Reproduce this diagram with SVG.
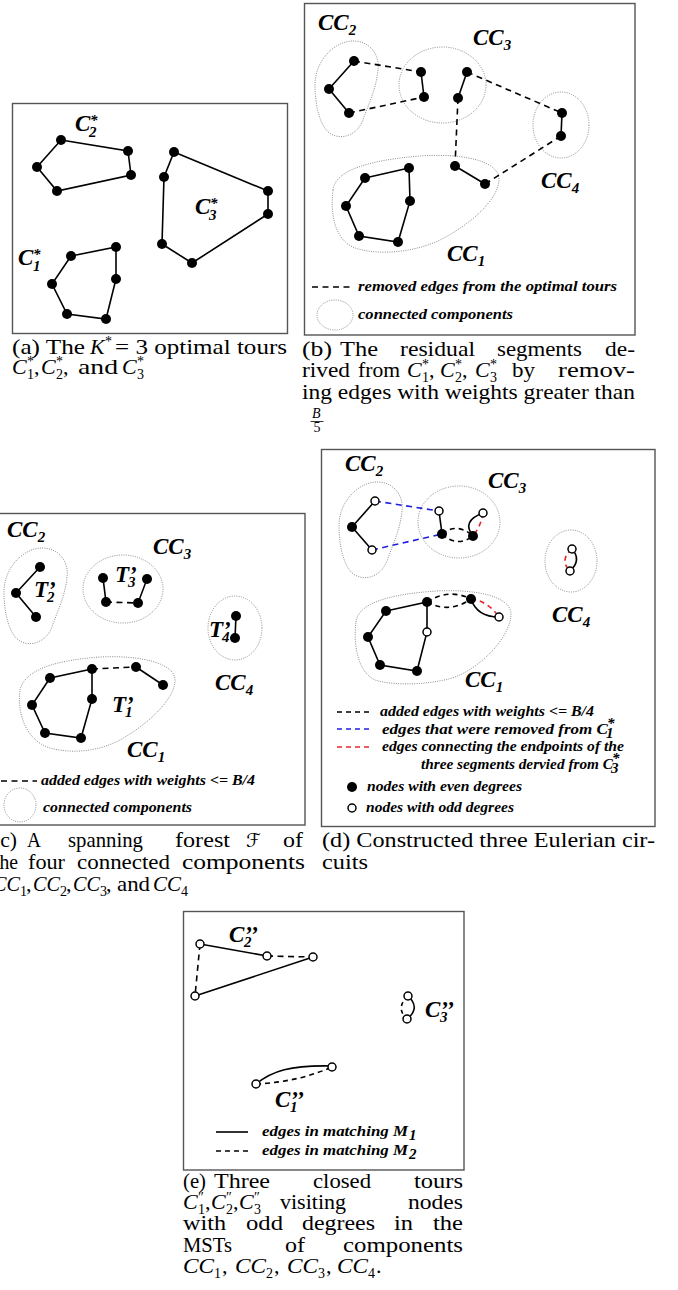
<svg xmlns="http://www.w3.org/2000/svg" width="678" height="1290" viewBox="0 0 678 1290">
<style>
.box{fill:none;stroke:#555;stroke-width:1.4}
.e{fill:none;stroke:#000;stroke-width:1.6}
.d{fill:none;stroke:#000;stroke-width:1.6;stroke-dasharray:6 4.5}
.db{fill:none;stroke:#1f1fe0;stroke-width:1.6;stroke-dasharray:6 4.5}
.dr{fill:none;stroke:#e8262a;stroke-width:1.6;stroke-dasharray:5 4}
.cc{fill:none;stroke:#8a8a8a;stroke-width:1;stroke-dasharray:1 1.3}
.n{fill:#000}
.o{fill:#fff;stroke:#000;stroke-width:1.5}
.cap{font-family:"Liberation Serif",serif;font-size:22px;fill:#000}
.it{font-style:italic}
.cs{font-family:"Liberation Serif",serif;font-size:14px;font-style:normal}
.lb{font-family:"Liberation Serif",serif;font-size:23px;font-weight:bold;font-style:italic}
.ls{font-family:"Liberation Serif",serif;font-size:15px;font-weight:bold;font-style:italic}
.lg{font-family:"Liberation Serif",serif;font-size:15px;font-weight:bold;font-style:italic}
</style>
<rect width="678" height="1290" fill="#fff"/>

<!-- ===== Panel (a) ===== -->
<g id="panel-a">
<rect class="box" x="12.5" y="103.5" width="275" height="230"/>
<g id="a-connectors">
<polygon class="e" points="61,140 128,151 131,175 57,191 37,167"/>
<polygon class="e" points="174,152 268,191 268,214 192,263 162,244 164,177"/>
<polygon class="e" points="71,256 116,247 116,279 106,319 67,314 52,284"/>
</g>
<g id="a-C2" class="n"><circle cx="61" cy="140" r="5"/><circle cx="128" cy="151" r="5"/><circle cx="131" cy="175" r="5"/><circle cx="57" cy="191" r="5"/><circle cx="37" cy="167" r="5"/></g>
<g id="a-C3" class="n"><circle cx="174" cy="152" r="5"/><circle cx="268" cy="191" r="5"/><circle cx="268" cy="214" r="5"/><circle cx="192" cy="263" r="5"/><circle cx="162" cy="244" r="5"/><circle cx="164" cy="177" r="5"/></g>
<g id="a-C1" class="n"><circle cx="71" cy="256" r="5"/><circle cx="116" cy="247" r="5"/><circle cx="116" cy="279" r="5"/><circle cx="106" cy="319" r="5"/><circle cx="67" cy="314" r="5"/><circle cx="52" cy="284" r="5"/></g>
<g id="a-labels">
<text class="lb" x="75" y="131">C</text><text class="ls" x="90" y="125" font-size="17">*</text><text class="ls" x="89" y="137">2</text>
<text class="lb" x="195" y="214">C</text><text class="ls" x="210" y="208" font-size="17">*</text><text class="ls" x="209" y="220">3</text>
<text class="lb" x="18" y="265">C</text><text class="ls" x="33" y="259" font-size="17">*</text><text class="ls" x="33" y="271">1</text>
</g>
<g id="a-caption" class="cap">
<text x="12" y="354" textLength="73" lengthAdjust="spacingAndGlyphs">(a) The</text>
<text class="it" x="90" y="354">K</text><text class="cs" x="105" y="346">*</text>
<text x="115" y="354" textLength="172" lengthAdjust="spacingAndGlyphs">= 3 optimal tours</text>
<text class="it" x="12" y="374">C</text><text class="cs" x="27" y="379">1</text><text class="cs" x="27" y="366">*</text><text x="34" y="374">,</text>
<text class="it" x="41" y="374">C</text><text class="cs" x="56" y="379">2</text><text class="cs" x="56" y="366">*</text><text x="63" y="374">,</text>
<text x="78" y="374" textLength="40" lengthAdjust="spacingAndGlyphs">and</text>
<text class="it" x="122" y="374">C</text><text class="cs" x="137" y="379">3</text><text class="cs" x="137" y="366">*</text>
</g>
</g>

<!-- ===== Panel (b) ===== -->
<g id="panel-b">
<rect class="box" x="304.5" y="3.5" width="330.5" height="331.5"/>
<g id="b-components">
<path class="cc" d="M353,41 C370,41 380,55 378,70 C376,90 368,105 363,120 C358,133 345,140 333,135 C320,130 315,105 315,85 C315,60 335,41 353,41 Z"/>
<ellipse class="cc" cx="442.5" cy="85" rx="43.5" ry="38"/>
<ellipse class="cc" cx="561" cy="125" rx="28" ry="33"/>
<path class="cc" d="M333,190 C335,170 370,160 420,156 C460,153 500,160 499,180 C498,200 470,225 440,240 C415,252 380,256 355,248 C335,240 330,215 333,190 Z"/>
</g>
<g id="b-connectors">
<polyline class="e" points="354,61 329,89 349,113"/>
<line class="e" x1="421" y1="72" x2="424" y2="97"/>
<line class="e" x1="467" y1="72" x2="458" y2="98"/>
<line class="e" x1="562" y1="113" x2="561" y2="136"/>
<line class="e" x1="455" y1="166" x2="485" y2="184"/>
<polygon class="e" points="365,178 409,168 410,201 398,242 359,236 346,206"/>
<line class="d" x1="354" y1="61" x2="421" y2="72"/>
<line class="d" x1="349" y1="113" x2="424" y2="97"/>
<line class="d" x1="467" y1="72" x2="562" y2="113"/>
<line class="d" x1="458" y1="98" x2="455" y2="166"/>
<line class="d" x1="485" y1="184" x2="561" y2="136"/>
</g>
<g id="b-CC2" class="n"><circle cx="354" cy="61" r="5"/><circle cx="329" cy="89" r="5"/><circle cx="349" cy="113" r="5"/></g>
<g id="b-CC3" class="n"><circle cx="421" cy="72" r="5"/><circle cx="424" cy="97" r="5"/><circle cx="467" cy="72" r="5"/><circle cx="458" cy="98" r="5"/></g>
<g id="b-CC4" class="n"><circle cx="562" cy="113" r="5"/><circle cx="561" cy="136" r="5"/></g>
<g id="b-CC1" class="n"><circle cx="455" cy="166" r="5"/><circle cx="485" cy="184" r="5"/><circle cx="365" cy="178" r="5"/><circle cx="409" cy="168" r="5"/><circle cx="410" cy="201" r="5"/><circle cx="398" cy="242" r="5"/><circle cx="359" cy="236" r="5"/><circle cx="346" cy="206" r="5"/></g>
<g id="b-labels">
<text class="lb" x="318" y="30">CC<tspan class="ls" dy="5">2</tspan></text>
<text class="lb" x="473" y="45">CC<tspan class="ls" dy="5">3</tspan></text>
<text class="lb" x="541" y="188">CC<tspan class="ls" dy="5">4</tspan></text>
<text class="lb" x="447" y="261">CC<tspan class="ls" dy="5">1</tspan></text>
</g>
<g id="b-legend">
<line class="d" x1="312" y1="287" x2="350" y2="287"/>
<text class="lg" x="358" y="291" textLength="259" lengthAdjust="spacingAndGlyphs">removed edges from the optimal tours</text>
<ellipse class="cc" cx="335" cy="315" rx="18" ry="15"/>
<text class="lg" x="358" y="319" textLength="155" lengthAdjust="spacingAndGlyphs">connected components</text>
</g>
<g id="b-caption" class="cap">
<text x="302" y="356" textLength="30" lengthAdjust="spacingAndGlyphs">(b)</text>
<text x="340" y="356" textLength="38" lengthAdjust="spacingAndGlyphs">The</text>
<text x="400" y="356" textLength="75" lengthAdjust="spacingAndGlyphs">residual</text>
<text x="497" y="356" textLength="85" lengthAdjust="spacingAndGlyphs">segments</text>
<text x="605" y="356" textLength="30" lengthAdjust="spacingAndGlyphs">de-</text>
<text x="302" y="377" textLength="48" lengthAdjust="spacingAndGlyphs">rived</text>
<text x="358" y="377" textLength="42" lengthAdjust="spacingAndGlyphs">from</text>
<text class="it" x="407" y="377">C</text><text class="cs" x="422" y="382">1</text><text class="cs" x="422" y="369">*</text><text x="429" y="377">,</text>
<text class="it" x="440" y="377">C</text><text class="cs" x="455" y="382">2</text><text class="cs" x="455" y="369">*</text><text x="462" y="377">,</text>
<text class="it" x="475" y="377">C</text><text class="cs" x="490" y="382">3</text><text class="cs" x="490" y="369">*</text>
<text x="512" y="377" textLength="23" lengthAdjust="spacingAndGlyphs">by</text>
<text x="558" y="377" textLength="77" lengthAdjust="spacingAndGlyphs">remov-</text>
<text x="302" y="399" textLength="333" lengthAdjust="spacingAndGlyphs">ing edges with weights greater than</text>
<text class="it" x="312" y="418" font-size="14">B</text>
<line x1="310.5" y1="421.5" x2="323.5" y2="421.5" stroke="#000" stroke-width="0.8"/>
<text class="cs" x="313.5" y="432">5</text>
</g>
</g>

<!-- ===== Panel (c) ===== -->
<g id="panel-c">
<rect class="box" x="-3" y="513.5" width="308" height="311.5"/>
<g id="c-components">
<path class="cc" transform="translate(-311,507)" d="M353,41 C370,41 380,55 378,70 C376,90 368,105 363,120 C358,133 345,140 333,135 C320,130 315,105 315,85 C315,60 335,41 353,41 Z"/>
<ellipse class="cc" cx="123" cy="589" rx="40" ry="34"/>
<ellipse class="cc" cx="235" cy="628" rx="27" ry="32"/>
<path class="cc" d="M20,690 C25,668 60,660 100,657 C140,655 177,663 175,682 C173,700 150,722 125,737 C105,750 75,755 50,748 C25,740 17,712 20,690 Z"/>
</g>
<g id="c-connectors">
<polyline class="e" points="40,567 16,593 36,617"/>
<line class="e" x1="103" y1="578" x2="106" y2="602"/>
<line class="e" x1="138" y1="603" x2="147" y2="579"/>
<line class="e" x1="236" y1="616" x2="235" y2="638"/>
<polygon class="e" points="50,678 92,669 92,699 81,738 45,733 32,705"/>
<line class="e" x1="136" y1="667" x2="163" y2="685"/>
<line class="d" x1="106" y1="602" x2="138" y2="603"/>
<line class="d" x1="92" y1="669" x2="136" y2="667"/>
</g>
<g id="c-CC2" class="n"><circle cx="40" cy="567" r="5"/><circle cx="16" cy="593" r="5"/><circle cx="36" cy="617" r="5"/></g>
<g id="c-CC3" class="n"><circle cx="103" cy="578" r="5"/><circle cx="106" cy="602" r="5"/><circle cx="138" cy="603" r="5"/><circle cx="147" cy="579" r="5"/></g>
<g id="c-CC4" class="n"><circle cx="236" cy="616" r="5"/><circle cx="235" cy="638" r="5"/></g>
<g id="c-CC1" class="n"><circle cx="50" cy="678" r="5"/><circle cx="92" cy="669" r="5"/><circle cx="136" cy="667" r="5"/><circle cx="163" cy="685" r="5"/><circle cx="92" cy="699" r="5"/><circle cx="81" cy="738" r="5"/><circle cx="45" cy="733" r="5"/><circle cx="32" cy="705" r="5"/></g>
<g id="c-labels">
<text class="lb" x="7" y="537">CC<tspan class="ls" dy="5">2</tspan></text>
<text class="lb" x="153" y="554">CC<tspan class="ls" dy="5">3</tspan></text>
<text class="lb" x="215" y="690">CC<tspan class="ls" dy="5">4</tspan></text>
<text class="lb" x="127" y="757">CC<tspan class="ls" dy="5">1</tspan></text>
<text class="lb" x="34" y="597">T’<tspan class="ls" x="47" dy="5">2</tspan></text>
<text class="lb" x="115" y="582">T’<tspan class="ls" x="128" dy="5">3</tspan></text>
<text class="lb" x="209" y="637">T’<tspan class="ls" x="222" dy="5">4</tspan></text>
<text class="lb" x="112" y="712">T’<tspan class="ls" x="125" dy="5">1</tspan></text>
</g>
<g id="c-legend">
<line class="d" x1="1" y1="781" x2="37" y2="781"/>
<text class="lg" x="41" y="785" textLength="214" lengthAdjust="spacingAndGlyphs">added edges with weights &lt;= B/4</text>
<ellipse class="cc" cx="20" cy="805" rx="16" ry="17"/>
<text class="lg" x="43" y="812" textLength="149" lengthAdjust="spacingAndGlyphs">connected components</text>
</g>
<g id="c-caption" class="cap">
<text x="-7" y="847" textLength="24" lengthAdjust="spacingAndGlyphs">(c)</text>
<text x="27" y="847" textLength="14" lengthAdjust="spacingAndGlyphs">A</text>
<text x="68" y="847" textLength="75" lengthAdjust="spacingAndGlyphs">spanning</text>
<text x="175" y="847" textLength="55" lengthAdjust="spacingAndGlyphs">forest</text>
<text x="246" y="847" style="font-family:'DejaVu Sans','DejaVu Serif',serif;font-size:19px">ℱ</text>
<text x="283" y="847" textLength="20" lengthAdjust="spacingAndGlyphs">of</text>
<text x="-6" y="869" textLength="24" lengthAdjust="spacingAndGlyphs">the</text>
<text x="28" y="869" textLength="37" lengthAdjust="spacingAndGlyphs">four</text>
<text x="77" y="869" textLength="93" lengthAdjust="spacingAndGlyphs">connected</text>
<text x="182" y="869" textLength="123" lengthAdjust="spacingAndGlyphs">components</text>
<text class="it" x="-7" y="891" textLength="27" lengthAdjust="spacingAndGlyphs">CC</text><text class="cs" x="20" y="896">1</text><text x="26" y="891">,</text>
<text class="it" x="33" y="891" textLength="27" lengthAdjust="spacingAndGlyphs">CC</text><text class="cs" x="60" y="896">2</text><text x="66" y="891">,</text>
<text class="it" x="73" y="891" textLength="27" lengthAdjust="spacingAndGlyphs">CC</text><text class="cs" x="100" y="896">3</text><text x="106" y="891">,</text>
<text x="117" y="891" textLength="33" lengthAdjust="spacingAndGlyphs">and</text>
<text class="it" x="153" y="891" textLength="28" lengthAdjust="spacingAndGlyphs">CC</text><text class="cs" x="181" y="896">4</text>
</g>
</g>

<!-- ===== Panel (d) ===== -->
<g id="panel-d">
<rect class="box" x="321.5" y="449.5" width="333.5" height="377"/>
<g id="d-components">
<path class="cc" transform="translate(24,441)" d="M353,41 C370,41 380,55 378,70 C376,90 368,105 363,120 C358,133 345,140 333,135 C320,130 315,105 315,85 C315,60 335,41 353,41 Z"/>
<ellipse class="cc" cx="459" cy="522" rx="41" ry="36"/>
<ellipse class="cc" cx="571" cy="561" rx="26" ry="31"/>
<path class="cc" d="M356,622 C358,603 390,594 437,591 C475,589 512,596 511,615 C510,633 490,660 460,675 C440,684 398,687 375,680 C358,672 353,645 356,622 Z"/>
</g>
<g id="d-connectors">
<polyline class="e" points="375,501 352,527 372,550"/>
<line class="e" x1="439" y1="511" x2="442" y2="534"/>
<path class="e" d="M473,536 Q461,521 483,513"/>
<path class="e" d="M572,549 Q582,560 570,571"/>
<polygon class="e" points="386,611 427,602 427,632 417,671 380,665 368,637"/>
<path class="e" d="M471,599 Q477,617 499,617"/>
<line class="db" x1="375" y1="501" x2="439" y2="511"/>
<line class="db" x1="372" y1="550" x2="442" y2="534"/>
<path class="d" style="stroke-dasharray:5 4" d="M442,534 Q457,522 473,536"/>
<path class="d" style="stroke-dasharray:5 4" d="M442,534 Q457,548 473,536"/>
<path class="d" style="stroke-dasharray:5 4" d="M427,602 Q449,588 471,599"/>
<path class="d" style="stroke-dasharray:5 4" d="M427,602 Q449,614 471,599"/>
<path class="dr" d="M483,513 Q481,526 473,536"/>
<path class="dr" d="M572,549 Q559,560 570,571"/>
<path class="dr" d="M471,599 Q488,601 499,617"/>
</g>
<g id="d-CC2"><circle class="o" cx="375" cy="501" r="4"/><circle class="n" cx="352" cy="527" r="5"/><circle class="o" cx="372" cy="550" r="4"/></g>
<g id="d-CC3"><circle class="o" cx="439" cy="511" r="4"/><circle class="n" cx="442" cy="534" r="5"/><circle class="n" cx="473" cy="536" r="5"/><circle class="o" cx="483" cy="513" r="4"/></g>
<g id="d-CC4"><circle class="o" cx="572" cy="549" r="4"/><circle class="o" cx="570" cy="571" r="4"/></g>
<g id="d-CC1"><circle class="n" cx="386" cy="611" r="5"/><circle class="n" cx="427" cy="602" r="5"/><circle class="n" cx="471" cy="599" r="5"/><circle class="o" cx="499" cy="617" r="4"/><circle class="o" cx="427" cy="632" r="4"/><circle class="n" cx="368" cy="637" r="5"/><circle class="n" cx="380" cy="665" r="5"/><circle class="n" cx="417" cy="671" r="5"/></g>
<g id="d-labels">
<text class="lb" x="345" y="471">CC<tspan class="ls" dy="5">2</tspan></text>
<text class="lb" x="488" y="488">CC<tspan class="ls" dy="5">3</tspan></text>
<text class="lb" x="552" y="622">CC<tspan class="ls" dy="5">4</tspan></text>
<text class="lb" x="465" y="687">CC<tspan class="ls" dy="5">1</tspan></text>
</g>
<g id="d-legend">
<line class="d" x1="337" y1="712" x2="372" y2="712" style="stroke-dasharray:5 4"/>
<text class="lg" x="380" y="716" textLength="214" lengthAdjust="spacingAndGlyphs">added edges with weights &lt;= B/4</text>
<line class="db" x1="337" y1="729" x2="372" y2="729" style="stroke-dasharray:5 4"/>
<text class="lg" x="382" y="734" textLength="226" lengthAdjust="spacingAndGlyphs">edges that were removed from C</text>
<text class="ls" x="607" y="728" font-size="12">*</text><text class="ls" x="606" y="738" font-size="12">1</text>
<line class="dr" x1="337" y1="747" x2="372" y2="747"/>
<text class="lg" x="382" y="751" textLength="242" lengthAdjust="spacingAndGlyphs">edges connecting the endpoints of the</text>
<text class="lg" x="421" y="769" textLength="192" lengthAdjust="spacingAndGlyphs">three segments dervied from C</text>
<text class="ls" x="612" y="763" font-size="12">*</text><text class="ls" x="611" y="773" font-size="12">3</text>
<circle class="n" cx="352" cy="787" r="5"/>
<text class="lg" x="367" y="791" textLength="155" lengthAdjust="spacingAndGlyphs">nodes with even degrees</text>
<circle class="o" cx="352" cy="808" r="4"/>
<text class="lg" x="366" y="812" textLength="148" lengthAdjust="spacingAndGlyphs">nodes with odd degrees</text>
</g>
<g id="d-caption" class="cap">
<text x="322" y="847" textLength="333" lengthAdjust="spacingAndGlyphs">(d) Constructed three Eulerian cir-</text>
<text x="322" y="869" textLength="46" lengthAdjust="spacingAndGlyphs">cuits</text>
</g>
</g>

<!-- ===== Panel (e) ===== -->
<g id="panel-e">
<rect class="box" x="183.5" y="911.5" width="280.5" height="258.5"/>
<g id="e-connectors">
<line class="e" x1="200" y1="944" x2="267" y2="956"/>
<line class="e" x1="195" y1="996" x2="313" y2="957"/>
<line class="d" x1="267" y1="956" x2="313" y2="957"/>
<line class="d" x1="200" y1="944" x2="195" y2="996"/>
<path class="e" d="M408,996 Q421,1008 407,1019"/>
<path class="d" style="stroke-dasharray:4 4" d="M408,996 Q395,1008 407,1019"/>
<path class="e" d="M256,1084 C272,1071 290,1065 332,1066"/>
<path class="d" style="stroke-dasharray:5 4" d="M256,1084 Q298,1082 332,1067"/>
</g>
<g id="e-C2"><circle class="o" cx="200" cy="944" r="4"/><circle class="o" cx="267" cy="956" r="4"/><circle class="o" cx="313" cy="957" r="4"/><circle class="o" cx="195" cy="996" r="4"/></g>
<g id="e-C3"><circle class="o" cx="408" cy="996" r="4"/><circle class="o" cx="407" cy="1019" r="4"/></g>
<g id="e-C1"><circle class="o" cx="256" cy="1084" r="4"/><circle class="o" cx="332" cy="1067" r="4"/></g>
<g id="e-labels">
<text class="lb" x="229" y="942">C’’<tspan class="ls" x="244" dy="5">2</tspan></text>
<text class="lb" x="425" y="1017">C’’<tspan class="ls" x="440" dy="5">3</tspan></text>
<text class="lb" x="275" y="1107">C’’<tspan class="ls" x="290" dy="5">1</tspan></text>
</g>
<g id="e-legend">
<line class="e" x1="216" y1="1132" x2="248" y2="1132"/>
<text class="lg" x="262" y="1136" textLength="146" lengthAdjust="spacingAndGlyphs">edges in matching M</text>
<text class="ls" x="409" y="1140" font-size="12">1</text>
<line class="d" x1="216" y1="1151" x2="248" y2="1151" style="stroke-dasharray:5 4"/>
<text class="lg" x="262" y="1155" textLength="146" lengthAdjust="spacingAndGlyphs">edges in matching M</text>
<text class="ls" x="409" y="1159" font-size="12">2</text>
</g>
<g id="e-caption" class="cap">
<text x="183" y="1188" textLength="23" lengthAdjust="spacingAndGlyphs">(e)</text>
<text x="214" y="1188" textLength="56" lengthAdjust="spacingAndGlyphs">Three</text>
<text x="313" y="1188" textLength="58" lengthAdjust="spacingAndGlyphs">closed</text>
<text x="414" y="1188" textLength="49" lengthAdjust="spacingAndGlyphs">tours</text>
<text class="it" x="183" y="1209">C</text><text class="cs" x="198" y="1214">1</text><text class="cs" x="198" y="1202">″</text><text x="205" y="1209">,</text>
<text class="it" x="211" y="1209">C</text><text class="cs" x="226" y="1214">2</text><text class="cs" x="226" y="1202">″</text><text x="233" y="1209">,</text>
<text class="it" x="239" y="1209">C</text><text class="cs" x="254" y="1214">3</text><text class="cs" x="254" y="1202">″</text>
<text x="280" y="1209" textLength="66" lengthAdjust="spacingAndGlyphs">visiting</text>
<text x="408" y="1209" textLength="55" lengthAdjust="spacingAndGlyphs">nodes</text>
<text x="183" y="1230" textLength="43" lengthAdjust="spacingAndGlyphs">with</text>
<text x="246" y="1230" textLength="37" lengthAdjust="spacingAndGlyphs">odd</text>
<text x="302" y="1230" textLength="73" lengthAdjust="spacingAndGlyphs">degrees</text>
<text x="394" y="1230" textLength="19" lengthAdjust="spacingAndGlyphs">in</text>
<text x="433" y="1230" textLength="30" lengthAdjust="spacingAndGlyphs">the</text>
<text x="183" y="1252" textLength="49" lengthAdjust="spacingAndGlyphs">MSTs</text>
<text x="285" y="1252" textLength="20" lengthAdjust="spacingAndGlyphs">of</text>
<text x="343" y="1252" textLength="120" lengthAdjust="spacingAndGlyphs">components</text>
<text class="it" x="183" y="1273" textLength="31" lengthAdjust="spacingAndGlyphs">CC</text><text class="cs" x="214" y="1278">1</text><text x="222" y="1273">,</text>
<text class="it" x="235" y="1273" textLength="31" lengthAdjust="spacingAndGlyphs">CC</text><text class="cs" x="266" y="1278">2</text><text x="274" y="1273">,</text>
<text class="it" x="287" y="1273" textLength="31" lengthAdjust="spacingAndGlyphs">CC</text><text class="cs" x="318" y="1278">3</text><text x="326" y="1273">,</text>
<text class="it" x="337" y="1273" textLength="31" lengthAdjust="spacingAndGlyphs">CC</text><text class="cs" x="368" y="1278">4</text><text x="376" y="1273">.</text>
</g>
</g>
</svg>
